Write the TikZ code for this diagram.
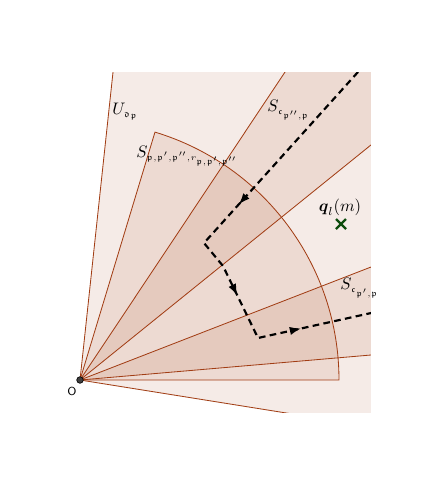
\documentclass[tikz,border=0pt]{standalone}
\usepackage{amssymb}
\usepackage{amsmath}
\usepackage{xcolor}
\usepackage{tikz}
\definecolor{sec}{rgb}{0.63,0.24,0.08}
\definecolor{grn}{rgb}{0.05,0.3,0.05}
\usetikzlibrary{calc,positioning,arrows.meta,decorations.markings}
\tikzset{
  zone/.style={fill=sec,fill opacity=0.1,draw=none},
  rim/.style={draw=sec,line width=0.5pt},
  walk/.style={line width=1.3pt,dash pattern=on 4pt off 2.6pt},
  arrowat/.style={postaction={decorate,decoration={markings,
      mark=at position #1 with {\pgfsetdash{}{0pt}\arrow{Latex[length=7pt,width=5pt]}}}}}
}

\begin{document}
\begin{tikzpicture}[x=0.6pt,y=0.6pt]
\useasboundingbox (-80,-105) rectangle (356,380);
\coordinate (O) at (0,0);
\begin{scope}
\clip (-80,-32) rectangle (291,308);
% big sector U
\fill[zone] (O) -- (-9.09:700) arc (-9.09:83.88:700) -- cycle;
% sector of radius r
\fill[zone] (O) -- (0:259) arc (0:73.17:259) -- cycle;
% the two cones
\fill[zone] (O) -- (38.93:700) arc (38.93:56.35:700) -- cycle;
\fill[zone] (O) -- (4.91:700) arc (4.91:21.22:700) -- cycle;
% boundaries
\draw[rim] (O) -- (83.88:700);
\draw[rim] (O) -- (-9.09:700);
\draw[rim] (O) -- (0:259) arc (0:73.17:259) -- cycle;
\draw[rim] (O) -- (38.93:700);
\draw[rim] (O) -- (56.35:700);
\draw[rim] (O) -- (4.91:700);
\draw[rim] (O) -- (21.22:700);
% the path
\coordinate (w0) at (278,308);
\coordinate (w1) at (124,137);
\coordinate (w2) at (143,114);
\coordinate (w3) at (178,42);
\coordinate (w4) at (293,67.4);
\draw[walk,arrowat=0.39,arrowat=0.64,arrowat=0.84] (w0) -- (w1) -- (w2) -- (w3) -- (w4);
\end{scope}

\filldraw[fill=black!75,draw=black,line width=0.4pt] (O) circle (3.3);
\node (olab) at (-8,-11) {\scriptsize\sffamily O};

\node[anchor=west,inner sep=0pt] (ulab) at (32,268) {$U_{\scriptscriptstyle\mathfrak{d}_{\mathfrak p}}$};
\node[anchor=west,inner sep=0pt] (slab) at (56,224) {$S_{\scriptscriptstyle\mathfrak p,\mathfrak p',\mathfrak p'',r_{\mathfrak p,\mathfrak p',\mathfrak p''}}$};
\node[anchor=west,inner sep=0pt] (c2lab) at (187,270) {$S_{\scriptscriptstyle\mathfrak c_{\mathfrak p'',\mathfrak p}}$};
\node[anchor=west,inner sep=0pt] (c1lab) at (260,92) {$S_{\scriptscriptstyle\mathfrak c_{\mathfrak p',\mathfrak p}}$};
\node (qlab) at (260,173) {$\boldsymbol{q}_l(m)$};
\draw[grn,line width=1.3pt] (261,156) ++(-5,-5) -- ++(10,10) ++(-10,0) -- ++(10,-10); % cross
\end{tikzpicture}
\end{document}
